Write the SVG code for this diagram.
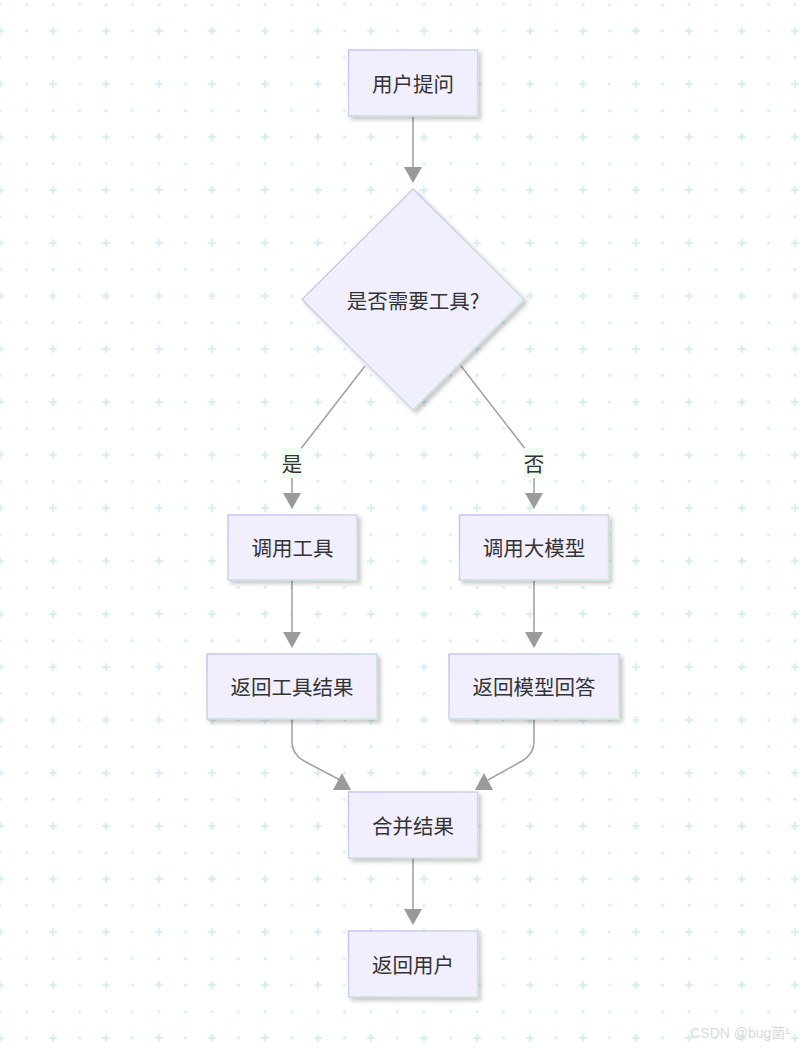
<svg xmlns="http://www.w3.org/2000/svg" width="803" height="1048" viewBox="0 0 803 1048">
<style>
.node rect, .node polygon { fill: #f1effe; stroke: url(#sg); stroke-width: 1.5; filter: url(#sh); }
.lbl { font-family: "Noto Sans CJK SC", "Liberation Sans", sans-serif; font-size: 20.5px; fill: #333; text-anchor: middle; dominant-baseline: central; }
.edge { fill: none; stroke: #a3a3a3; stroke-width: 1.6; }
.head { fill: #9a9a9a; }
.elbl rect { fill: #effbef; }
.grid { fill: #d4edf0; }
</style>
<defs>
<linearGradient id="sg" x1="0" y1="0" x2="1" y2="1">
<stop offset="0" stop-color="#c6c3f4"/>
<stop offset="1" stop-color="#cbecd6"/>
</linearGradient>
<filter id="sh" x="-20%" y="-20%" width="150%" height="150%">
<feDropShadow dx="3" dy="3" stdDeviation="2" flood-color="#000" flood-opacity="0.22"/>
</filter>
<pattern id="bg" x="-13.25" y="-8.75" width="53" height="53" patternUnits="userSpaceOnUse">
<circle class="grid" cx="13.25" cy="13.25" r="1.5"/>
<circle class="grid" cx="39.75" cy="13.25" r="1.5"/>
<circle class="grid" cx="39.75" cy="39.75" r="1.5"/>
<rect class="grid" x="9.25" y="38.75" width="8" height="2"/>
<rect class="grid" x="12.25" y="35.75" width="2" height="8"/>
</pattern>
</defs>
<rect width="803" height="1048" fill="#ffffff"/>
<rect width="803" height="1048" fill="url(#bg)"/>

<g id="connectors">
<path class="edge" d="M413,117 L413,168"/>
<polygon class="head" points="404,167 422,167 413,183"/>
<path class="edge" d="M365,366 L303,446 Q292,460 292,472 L292,495"/>
<polygon class="head" points="283,493 301,493 292,509"/>
<path class="edge" d="M461,366 L523,446 Q534,460 534,472 L534,495"/>
<polygon class="head" points="525,493 543,493 534,509"/>
<path class="edge" d="M292,580 L292,633"/>
<polygon class="head" points="283,632 301,632 292,648"/>
<path class="edge" d="M534,580 L534,633"/>
<polygon class="head" points="525,632 543,632 534,648"/>
<path class="edge" d="M292,719 L292,742 Q292,754 304,761 L340,780"/>
<polygon class="head" points="333,790 351,790 342,773"/>
<path class="edge" d="M534,719 L534,742 Q534,754 522,761 L488,780"/>
<polygon class="head" points="475,790 493,790 484,773"/>
<path class="edge" d="M413,858 L413,910"/>
<polygon class="head" points="404,909 422,909 413,925"/>
<g class="elbl" id="label-yes">
<rect x="282" y="448" width="20" height="30"/>
<text class="lbl" x="292" y="463">是</text>
</g>
<g class="elbl" id="label-no">
<rect x="524" y="448" width="20" height="30"/>
<text class="lbl" x="534" y="463">否</text>
</g>
</g>

<g id="n-ask" class="node">
<rect x="348.5" y="50" width="129" height="66"/>
<text class="lbl" x="413" y="82.5">用户提问</text>
</g>
<g id="n-decide" class="node">
<polygon points="413,189 524,299.5 413,410 302,299.5"/>
<text class="lbl" x="413" y="299.5">是否需要工具?</text>
</g>
<g id="n-tool" class="node">
<rect x="228" y="515" width="129" height="65"/>
<text class="lbl" x="292.5" y="547">调用工具</text>
</g>
<g id="n-llm" class="node">
<rect x="459.5" y="515" width="149" height="65"/>
<text class="lbl" x="534" y="547">调用大模型</text>
</g>
<g id="n-toolres" class="node">
<rect x="207" y="654" width="170" height="65"/>
<text class="lbl" x="292" y="686">返回工具结果</text>
</g>
<g id="n-llmres" class="node">
<rect x="449" y="654" width="170" height="65"/>
<text class="lbl" x="534" y="686">返回模型回答</text>
</g>
<g id="n-merge" class="node">
<rect x="348.5" y="792" width="129" height="66"/>
<text class="lbl" x="413" y="824.5">合并结果</text>
</g>
<g id="n-return" class="node">
<rect x="348.5" y="931" width="129" height="66"/>
<text class="lbl" x="413" y="963.5">返回用户</text>
</g>

<text x="790" y="1038" font-family="Liberation Sans, Noto Sans CJK SC, sans-serif" font-size="14" fill="#dadada" text-anchor="end">CSDN @bug菌¹</text>
</svg>
